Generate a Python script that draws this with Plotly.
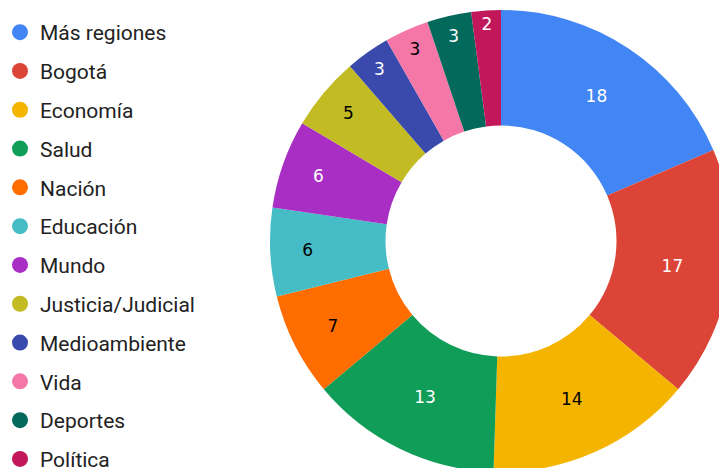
import plotly.graph_objects as go

# Article counts per section
categories = ["Más regiones", "Bogotá", "Economía", "Salud", "Nación", "Educación",
              "Mundo", "Justicia/Judicial", "Medioambiente", "Vida", "Deportes", "Política"]
counts = [18, 17, 14, 13, 7, 6, 6, 5, 3, 3, 3, 2]
colors = ["#4285F4", "#DB4437", "#F4B400", "#0F9D58", "#FF6D00", "#46BDC6",
          "#A92FC4", "#C2BB23", "#3A4AAC", "#F577A8", "#03695B", "#C2185B"]
label_colors = ["white", "white", "black", "white", "black", "black",
                "white", "black", "white", "black", "white", "white"]

W, H = 740, 480
cx, cy, r = 501, 241, 231  # pie centre and radius in pixels (cy from top)

fig = go.Figure()

fig.add_trace(go.Pie(
    labels=categories,
    values=counts,
    sort=False,
    direction="clockwise",
    rotation=0,
    hole=0.5,
    marker=dict(colors=colors, line=dict(width=0)),
    textinfo="value",
    textposition="inside",
    insidetextorientation="horizontal",
    textfont=dict(family="DejaVu Sans", size=17, color=label_colors),
    showlegend=False,
    domain=dict(x=[(cx - r) / W, (cx + r) / W],
                y=[(H - cy - r) / H, (H - cy + r) / H]),
))

# Round legend markers, one entry per section
for name, col in zip(categories, colors):
    fig.add_trace(go.Scatter(
        x=[None], y=[None], mode="markers", name=name, legendgroup=name,
        marker=dict(size=16, color=col, symbol="circle"),
    ))

fig.update_layout(
    width=W, height=H,
    margin=dict(l=0, r=0, t=0, b=0),
    paper_bgcolor="white", plot_bgcolor="white",
    xaxis=dict(visible=False), yaxis=dict(visible=False),
    legend=dict(
        x=0, y=1 - 12 / H, xanchor="left", yanchor="top",
        font=dict(family="Roboto", size=21, color="#222222"),
        tracegroupgap=8.5, bgcolor="rgba(0,0,0,0)",
    ),
)

fig.write_html(
    "out.html",
    post_script="document.documentElement.style.overflow='hidden';"
                "document.body.style.overflow='hidden';",
)
